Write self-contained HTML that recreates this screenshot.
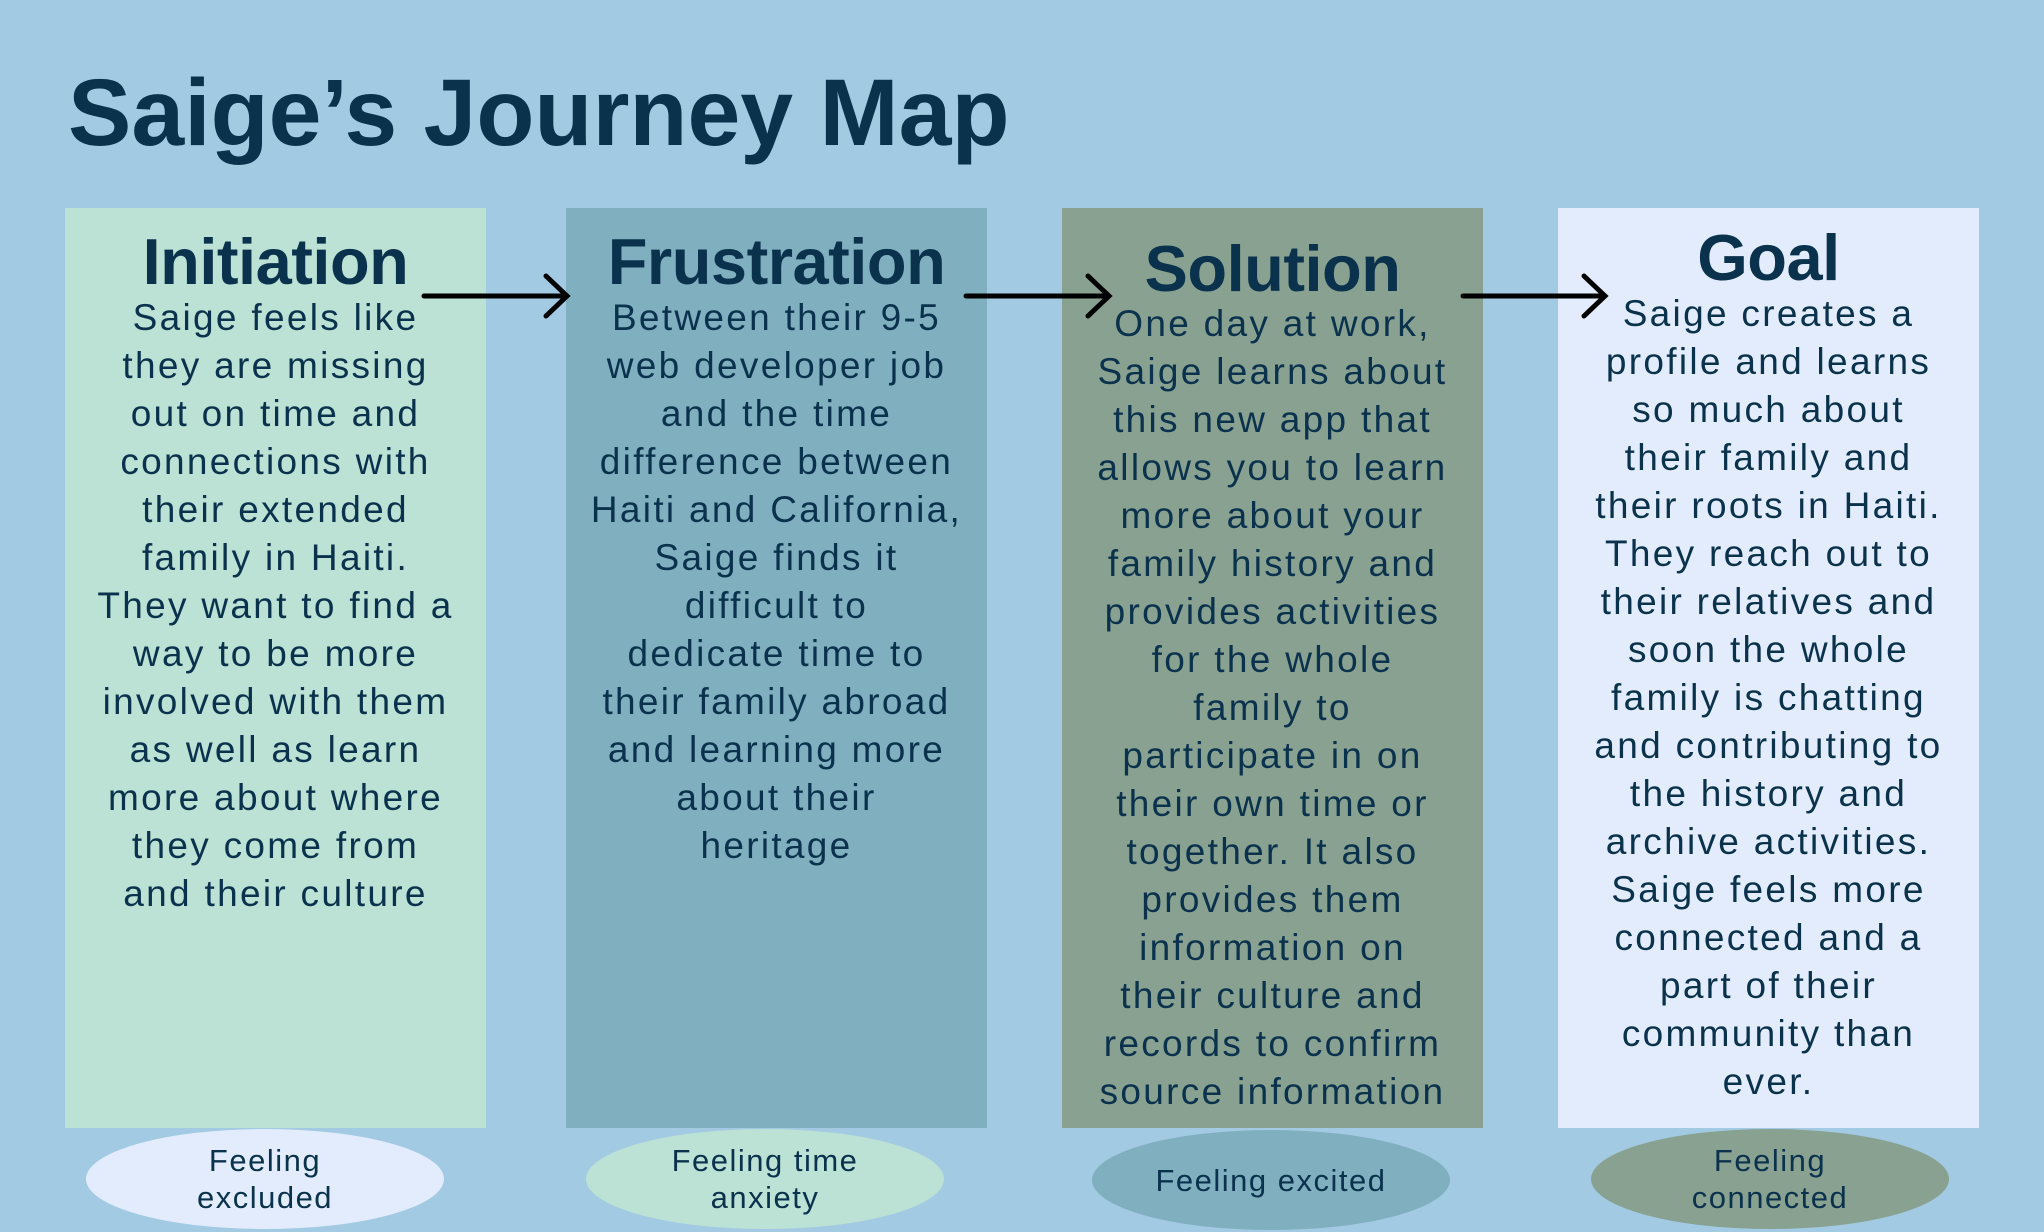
<!DOCTYPE html>
<html><head><meta charset="utf-8"><style>
body{margin:0;width:2044px;height:1232px;background:#a3cae3;position:relative;overflow:hidden;font-family:"Liberation Sans",sans-serif;color:#0b324d}
.t{position:absolute;left:68px;top:66px;font-size:95px;line-height:94px;font-weight:bold;white-space:nowrap}
.box{position:absolute;top:208px;width:421px;height:920px}
.h{position:absolute;left:0;width:100%;text-align:center;font-weight:bold;font-size:65px;line-height:70px;letter-spacing:-0.5px}
.b{position:absolute;left:0;width:100%;text-align:center;font-size:37px;line-height:48px;white-space:nowrap;letter-spacing:2.3px}
.e{position:absolute;width:358px;height:100px;border-radius:50%;display:flex;align-items:center;justify-content:center;text-align:center;font-size:31px;line-height:37px;letter-spacing:1.5px}
</style></head><body>
<div class="t">Saige’s Journey Map</div>

<div class="box" style="left:65px;background:#bce1d5">
<div class="h" style="top:19px">Initiation</div>
<div class="b" style="top:86px">Saige feels like<br>they are missing<br>out on time and<br>connections with<br>their extended<br>family in Haiti.<br>They want to find a<br>way to be more<br>involved with them<br>as well as learn<br>more about where<br>they come from<br>and their culture</div>
</div>
<div class="box" style="left:566px;background:#80b0bf">
<div class="h" style="top:19px">Frustration</div>
<div class="b" style="top:86px">Between their 9-5<br>web developer job<br>and the time<br>difference between<br>Haiti and California,<br>Saige finds it<br>difficult to<br>dedicate time to<br>their family abroad<br>and learning more<br>about their<br>heritage</div>
</div>
<div class="box" style="left:1062px;background:#88a190">
<div class="h" style="top:26px">Solution</div>
<div class="b" style="top:92px">One day at work,<br>Saige learns about<br>this new app that<br>allows you to learn<br>more about your<br>family history and<br>provides activities<br>for the whole<br>family to<br>participate in on<br>their own time or<br>together. It also<br>provides them<br>information on<br>their culture and<br>records to confirm<br>source information</div>
</div>
<div class="box" style="left:1558px;background:#e2ecfc">
<div class="h" style="top:15px">Goal</div>
<div class="b" style="top:82px">Saige creates a<br>profile and learns<br>so much about<br>their family and<br>their roots in Haiti.<br>They reach out to<br>their relatives and<br>soon the whole<br>family is chatting<br>and contributing to<br>the history and<br>archive activities.<br>Saige feels more<br>connected and a<br>part of their<br>community than<br>ever.</div>
</div>

<svg width="2044" height="1232" style="position:absolute;left:0;top:0">
<g stroke="#000" stroke-width="5" fill="none" stroke-linecap="round">
<path d="M424 296H567M546 276L567 296L546 316"/>
<path d="M966 296H1109M1088 276L1109 296L1088 316"/>
<path d="M1463 296H1605M1584 276L1605 296L1584 316"/>
</g></svg>

<div class="e" style="left:86px;top:1129px;background:#e2ecfc">Feeling<br>excluded</div>
<div class="e" style="left:586px;top:1129px;background:#bce1d5">Feeling time<br>anxiety</div>
<div class="e" style="left:1092px;top:1130px;background:#80b0bf">Feeling excited</div>
<div class="e" style="left:1591px;top:1129px;background:#88a190">Feeling<br>connected</div>
</body></html>
